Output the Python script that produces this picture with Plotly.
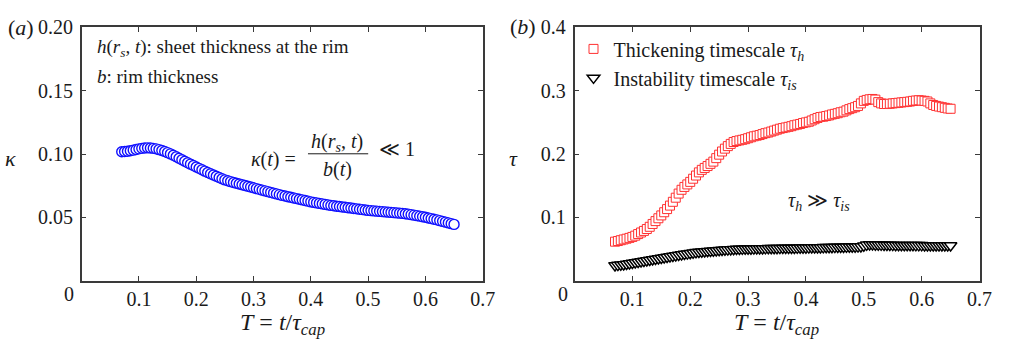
import plotly.graph_objects as go

# ---------------- data ----------------
T_vals = [0.070, 0.075, 0.080, 0.085, 0.090, 0.095, 0.100, 0.105, 0.110, 0.115,
          0.120, 0.125, 0.130, 0.135, 0.140, 0.145, 0.150, 0.155, 0.160, 0.165,
          0.170, 0.175, 0.180, 0.185, 0.190, 0.195, 0.200, 0.205, 0.210, 0.215,
          0.220, 0.225, 0.230, 0.235, 0.240, 0.245, 0.250, 0.255, 0.260, 0.265,
          0.270, 0.275, 0.280, 0.285, 0.290, 0.295, 0.300, 0.305, 0.310, 0.315,
          0.320, 0.325, 0.330, 0.335, 0.340, 0.345, 0.350, 0.355, 0.360, 0.365,
          0.370, 0.375, 0.380, 0.385, 0.390, 0.395, 0.400, 0.405, 0.410, 0.415,
          0.420, 0.425, 0.430, 0.435, 0.440, 0.445, 0.450, 0.455, 0.460, 0.465,
          0.470, 0.475, 0.480, 0.485, 0.490, 0.495, 0.500, 0.505, 0.510, 0.515,
          0.520, 0.525, 0.530, 0.535, 0.540, 0.545, 0.550, 0.555, 0.560, 0.565,
          0.570, 0.575, 0.580, 0.585, 0.590, 0.595, 0.600, 0.605, 0.610, 0.615,
          0.620, 0.625, 0.630, 0.635, 0.640, 0.645, 0.650]

kappa = [0.1018, 0.1020, 0.1022, 0.1026, 0.1031, 0.1036, 0.1041, 0.1045, 0.1048, 0.1049,
         0.1048, 0.1045, 0.1041, 0.1035, 0.1028, 0.1020, 0.1011, 0.1001, 0.0990, 0.0979,
         0.0967, 0.0955, 0.0943, 0.0931, 0.0920, 0.0909, 0.0898, 0.0887, 0.0876, 0.0865,
         0.0854, 0.0844, 0.0834, 0.0824, 0.0814, 0.0805, 0.0796, 0.0789, 0.0782, 0.0775,
         0.0769, 0.0763, 0.0757, 0.0751, 0.0745, 0.0739, 0.0733, 0.0727, 0.0721, 0.0715,
         0.0709, 0.0703, 0.0697, 0.0691, 0.0685, 0.0679, 0.0673, 0.0668, 0.0663, 0.0658,
         0.0653, 0.0648, 0.0643, 0.0638, 0.0633, 0.0628, 0.0622, 0.0618, 0.0614, 0.0610,
         0.0606, 0.0602, 0.0598, 0.0594, 0.0591, 0.0588, 0.0585, 0.0582, 0.0579, 0.0576,
         0.0573, 0.0570, 0.0567, 0.0564, 0.0561, 0.0558, 0.0555, 0.0553, 0.0551, 0.0549,
         0.0547, 0.0545, 0.0543, 0.0541, 0.0539, 0.0537, 0.0535, 0.0533, 0.0531, 0.0528,
         0.0525, 0.0521, 0.0517, 0.0513, 0.0509, 0.0505, 0.0500, 0.0495, 0.0490, 0.0485,
         0.0480, 0.0474, 0.0468, 0.0462, 0.0456, 0.0450, 0.0444]

tau_h = [0.0615, 0.0625, 0.0638, 0.0650, 0.0662, 0.0675, 0.0690, 0.0710, 0.0735, 0.0760,
         0.0785, 0.0815, 0.0850, 0.0895, 0.0940, 0.0985, 0.1030, 0.1080, 0.1130, 0.1185,
         0.1245, 0.1310, 0.1375, 0.1435, 0.1480, 0.1520, 0.1560, 0.1610, 0.1660, 0.1710,
         0.1750, 0.1780, 0.1810, 0.1845, 0.1880, 0.1935, 0.1990, 0.2040, 0.2085, 0.2125,
         0.2160, 0.2190, 0.2205, 0.2215, 0.2225, 0.2235, 0.2250, 0.2265, 0.2280, 0.2290,
         0.2300, 0.2315, 0.2330, 0.2340, 0.2355, 0.2370, 0.2385, 0.2400, 0.2410, 0.2420,
         0.2430, 0.2440, 0.2455, 0.2465, 0.2475, 0.2490, 0.2500, 0.2510, 0.2530, 0.2550,
         0.2570, 0.2585, 0.2590, 0.2600, 0.2610, 0.2625, 0.2635, 0.2645, 0.2660, 0.2670,
         0.2690, 0.2710, 0.2725, 0.2740, 0.2760, 0.2800, 0.2840, 0.2855, 0.2865, 0.2870,
         0.2860, 0.2820, 0.2800, 0.2790, 0.2790, 0.2795, 0.2800, 0.2805, 0.2810, 0.2815,
         0.2820, 0.2825, 0.2830, 0.2840, 0.2845, 0.2850, 0.2845, 0.2840, 0.2830, 0.2800,
         0.2775, 0.2760, 0.2750, 0.2740, 0.2730, 0.2720, 0.2715]

tau_is = [0.0240, 0.0245, 0.0250, 0.0255, 0.0262, 0.0270, 0.0278, 0.0286, 0.0294, 0.0302,
          0.0310, 0.0318, 0.0326, 0.0334, 0.0342, 0.0350, 0.0358, 0.0366, 0.0374, 0.0382,
          0.0390, 0.0398, 0.0405, 0.0412, 0.0419, 0.0426, 0.0433, 0.0440, 0.0446, 0.0451,
          0.0456, 0.0460, 0.0464, 0.0468, 0.0472, 0.0476, 0.0480, 0.0484, 0.0487, 0.0490,
          0.0493, 0.0496, 0.0498, 0.0500, 0.0501, 0.0502, 0.0503, 0.0504, 0.0505, 0.0506,
          0.0507, 0.0508, 0.0509, 0.0510, 0.0511, 0.0512, 0.0512, 0.0513, 0.0514, 0.0514,
          0.0515, 0.0515, 0.0516, 0.0517, 0.0518, 0.0519, 0.0520, 0.0521, 0.0522, 0.0522,
          0.0523, 0.0524, 0.0525, 0.0526, 0.0527, 0.0528, 0.0529, 0.0530, 0.0531, 0.0532,
          0.0533, 0.0534, 0.0535, 0.0536, 0.0537, 0.0540, 0.0550, 0.0565, 0.0572, 0.0570,
          0.0568, 0.0566, 0.0565, 0.0564, 0.0563, 0.0562, 0.0561, 0.0560, 0.0560, 0.0559,
          0.0559, 0.0558, 0.0558, 0.0558, 0.0557, 0.0557, 0.0557, 0.0556, 0.0556, 0.0556,
          0.0555, 0.0555, 0.0555, 0.0555, 0.0555, 0.0555, 0.0555]

x_ticks = [0.1, 0.2, 0.3, 0.4, 0.5, 0.6, 0.7]
x_ticklabels = ["0.1", "0.2", "0.3", "0.4", "0.5", "0.6", "0.7"]
ya_ticks = [0.05, 0.10, 0.15, 0.20]
ya_ticklabels = ["0.05", "0.10", "0.15", "0.20"]
yb_ticks = [0.1, 0.2, 0.3, 0.4]
yb_ticklabels = ["0.1", "0.2", "0.3", "0.4"]

# ---------------- figure ----------------
W, H = 1009, 344
FONT = "Liberation Serif"
AX = "#3a3a3a"
TXT = "#1a1a1a"


def px(x):
    return x / W


def py(y):
    return 1 - y / H


fig = go.Figure()

fig.add_trace(go.Scatter(
    x=T_vals, y=kappa, mode="markers", xaxis="x", yaxis="y", showlegend=False,
    marker=dict(symbol="circle", size=10, color="white",
                line=dict(color="#1010ff", width=1.4))))

fig.add_trace(go.Scatter(
    x=T_vals, y=tau_h, mode="markers", xaxis="x2", yaxis="y2",
    name="Thickening timescale <i>τ</i><sub><i>h</i></sub>",
    marker=dict(symbol="square", size=9, color="white",
                line=dict(color="#ff3030", width=1))))

fig.add_trace(go.Scatter(
    x=T_vals, y=tau_is, mode="markers", xaxis="x2", yaxis="y2",
    name="Instability timescale <i>τ</i><sub><i>is</i></sub>",
    marker=dict(symbol="triangle-down", size=11, color="white",
                line=dict(color="black", width=1.5))))

axis_common = dict(showline=True, linecolor=AX, linewidth=1.5, mirror="ticks",
                   ticks="inside", ticklen=5, tickwidth=1.2, tickcolor=AX,
                   showgrid=False, zeroline=False,
                   tickfont=dict(family=FONT, size=20, color=TXT))

y_top, y_bot = 17, 278.5
fig.update_layout(
    width=W, height=H, margin=dict(l=0, r=0, t=0, b=0),
    paper_bgcolor="white", plot_bgcolor="white",
    font=dict(family=FONT, color=TXT),
    xaxis=dict(domain=[px(82.7), px(489)], range=[0, 0.7], anchor="y",
               tickvals=x_ticks, ticktext=x_ticklabels, **axis_common),
    yaxis=dict(domain=[py(y_bot), py(y_top)], range=[0, 0.20], anchor="x",
               tickvals=ya_ticks, ticktext=ya_ticklabels, ticklabelstandoff=3,
               **axis_common),
    xaxis2=dict(domain=[px(582), px(992.3)], range=[0, 0.7], anchor="y2",
                tickvals=x_ticks, ticktext=x_ticklabels, **axis_common),
    yaxis2=dict(domain=[py(y_bot), py(y_top)], range=[0, 0.4], anchor="x2",
                tickvals=yb_ticks, ticktext=yb_ticklabels, ticklabelstandoff=3,
                **axis_common),
    legend=dict(x=px(581), y=py(19), xanchor="left", yanchor="top",
                bgcolor="rgba(0,0,0,0)", font=dict(family=FONT, size=20, color=TXT),
                itemwidth=30, tracegroupgap=2),
)


def ann(text, x, y, size=20, xanchor="center", yanchor="middle"):
    fig.add_annotation(text=text, x=px(x), y=py(y), xref="paper", yref="paper",
                       showarrow=False, xanchor=xanchor, yanchor=yanchor,
                       font=dict(family=FONT, size=size, color=TXT))


# panel labels
ann("(<i>a</i>)", 21, 17, size=22)
ann("(<i>b</i>)", 530, 16, size=22)
# zero labels at origin
ann("0", 70, 292, size=20)
ann("0", 570, 292, size=20)
# axis titles
ann("<i>κ</i>", 11, 152, size=22)
ann("<i>τ</i>", 520, 152, size=22)
ann("<i>T</i> = <i>t</i>/<i>τ</i><sub><i>cap</i></sub>", 286, 323, size=24)
ann("<i>T</i> = <i>t</i>/<i>τ</i><sub><i>cap</i></sub>", 787, 323, size=24)
# panel (a) texts
ann("<i>h</i>(<i>r</i><sub><i>s</i></sub>, <i>t</i>): sheet thickness at the rim",
    96, 38, size=19, xanchor="left")
ann("<i>b</i>: rim thickness", 96, 68, size=19, xanchor="left")
# fraction
ann("<i>κ</i>(<i>t</i>) =", 277, 153, size=20)
ann("<i>h</i>(<i>r</i><sub><i>s</i></sub>, <i>t</i>)", 341, 136, size=20)
ann("<i>b</i>(<i>t</i>)", 342, 164, size=20)
ann("≪ 1", 402, 143, size=20)
fig.add_shape(type="line", xref="paper", yref="paper",
              x0=px(312), x1=px(373), y0=py(147.5), y1=py(147.5),
              line=dict(color=TXT, width=1))
# panel (b) relation
ann("<i>τ</i><sub><i>h</i></sub> ≫ <i>τ</i><sub><i>is</i></sub>", 830, 197, size=20)

fig.write_html("out.html", config={"displayModeBar": False},
               post_script="document.body.style.margin='0px';")
